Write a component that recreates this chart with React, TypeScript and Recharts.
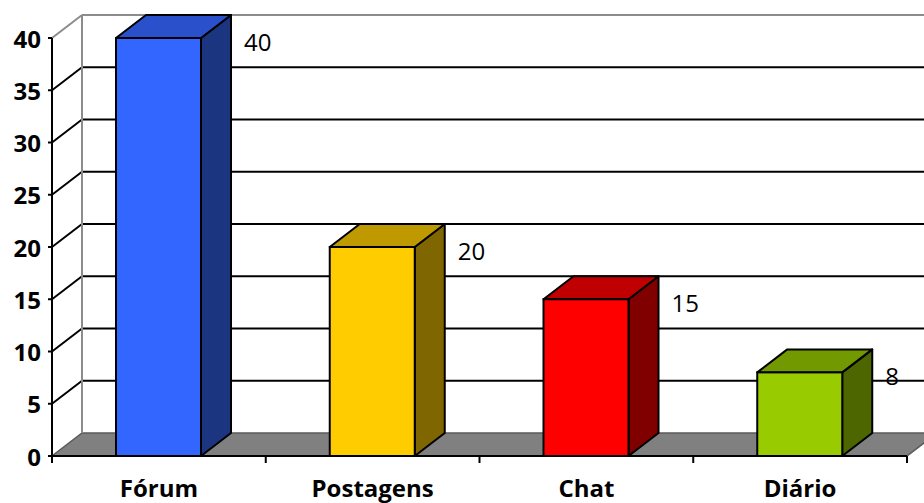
import React from 'react';
import { BarChart, Bar, XAxis, YAxis, CartesianGrid, LabelList } from 'recharts';

// Categories and counts
const categories = ['Fórum', 'Postagens', 'Chat', 'Diário'];
const counts = [40, 20, 15, 8];
const yTicks = [0, 5, 10, 15, 20, 25, 30, 35, 40];

const data = categories.map((name, i) => ({ name, value: counts[i] }));

// Face colours per bar: front, top, side
const palette = [
  { front: '#3366FF', top: '#2A50CC', side: '#1B3580' },
  { front: '#FFCC00', top: '#BF9900', side: '#806600' },
  { front: '#FF0000', top: '#C00000', side: '#800000' },
  { front: '#99CC00', top: '#739900', side: '#4D6600' },
];

const W = 924;
const H = 503;
const MARGIN = { top: 38, right: 17, left: 0, bottom: 0 };
const Y_AXIS_W = 52;
const X_AXIS_H = 47;
const PLOT_LEFT = Y_AXIS_W;
const PLOT_RIGHT = W - MARGIN.right;
const PLOT_BOTTOM = H - X_AXIS_H;
const BAND = (PLOT_RIGHT - PLOT_LEFT) / categories.length;

// 3D depth offset
const DX = 30;
const DY = 23;
const FONT = "'Open Sans', sans-serif";

const Box3D = (props: any) => {
  const { x, y, width, height, index } = props;
  const c = palette[index % palette.length];
  const top = `${x},${y} ${x + DX},${y - DY} ${x + width + DX},${y - DY} ${x + width},${y}`;
  const side = `${x + width},${y} ${x + width + DX},${y - DY} ${x + width + DX},${y + height - DY} ${x + width},${y + height}`;
  return (
    <g>
      <polygon points={side} fill={c.side} stroke="#000" strokeWidth={2} strokeLinejoin="round" />
      <polygon points={top} fill={c.top} stroke="#000" strokeWidth={2} strokeLinejoin="round" />
      <rect x={x} y={y} width={width} height={height} fill={c.front} stroke="#000" strokeWidth={2} />
    </g>
  );
};

const GridLine = (props: any) => {
  const { x1, y1, x2, y, height } = props;
  const isTop = Math.abs(y1 - y) < 0.5;
  const isFloor = Math.abs(y1 - (y + height)) < 0.5;
  if (isFloor) {
    const floor = `${x1},${y1} ${x2},${y1} ${x2 + DX},${y1 - DY} ${x1 + DX},${y1 - DY}`;
    return (
      <g>
        <polygon points={floor} fill="#808080" stroke="#5a5a5a" strokeWidth={1.5} />
      </g>
    );
  }
  const color = isTop ? '#8c8c8c' : '#000';
  return (
    <g>
      <line x1={x1} y1={y1} x2={x1 + DX} y2={y1 - DY} stroke={color} strokeWidth={2} />
      <line x1={x1 + DX} y1={y1 - DY} x2={W + 20} y2={y1 - DY} stroke={color} strokeWidth={2} />
      {isTop && (
        <line x1={x1 + DX} y1={y1 - DY} x2={x1 + DX} y2={y + height - DY} stroke="#8c8c8c" strokeWidth={2} />
      )}
    </g>
  );
};

const YTick = (props: any) => {
  const { y, payload } = props;
  return (
    <g>
      <line x1={PLOT_LEFT - 4} x2={PLOT_LEFT} y1={y} y2={y} stroke="#000" strokeWidth={2} />
      <text
        x={PLOT_LEFT - 11}
        y={y}
        textAnchor="end"
        dominantBaseline="central"
        fontFamily={FONT}
        fontWeight={700}
        fontSize={24}
        fill="#000"
      >
        {payload.value}
      </text>
    </g>
  );
};

const XTick = (props: any) => {
  const { x, payload, index } = props;
  const last = index === categories.length - 1;
  return (
    <g>
      <line x1={x - BAND / 2} x2={x - BAND / 2} y1={PLOT_BOTTOM} y2={PLOT_BOTTOM + 7} stroke="#000" strokeWidth={2} />
      {last && (
        <line x1={x + BAND / 2} x2={x + BAND / 2} y1={PLOT_BOTTOM} y2={PLOT_BOTTOM + 7} stroke="#000" strokeWidth={2} />
      )}
      <text
        x={x}
        y={PLOT_BOTTOM + 41}
        textAnchor="middle"
        fontFamily={FONT}
        fontWeight={700}
        fontSize={24}
        fill="#000"
      >
        {payload.value}
      </text>
    </g>
  );
};

const ValueLabel = (props: any) => {
  const { x, y, width, value } = props;
  return (
    <text
      x={x + width + DX + 13}
      y={y + 3}
      dominantBaseline="central"
      fontFamily={FONT}
      fontSize={24}
      fill="#000"
    >
      {value}
    </text>
  );
};

export default function App() {
  return (
    <div style={{ position: 'absolute', left: 0, top: 0, width: W, height: H, background: '#fff' }}>
      <BarChart width={W} height={H} data={data} margin={MARGIN} barSize={85}>
        <CartesianGrid vertical={false} horizontal={(p: any) => <GridLine {...p} />} />
        <XAxis
          dataKey="name"
          height={X_AXIS_H}
          tickLine={false}
          axisLine={{ stroke: '#000', strokeWidth: 2 }}
          tick={<XTick />}
          interval={0}
        />
        <YAxis
          width={Y_AXIS_W}
          domain={[0, 40]}
          ticks={yTicks}
          tickLine={false}
          axisLine={{ stroke: '#000', strokeWidth: 2 }}
          tick={<YTick />}
          interval={0}
        />
        <Bar dataKey="value" shape={<Box3D />} isAnimationActive={false}>
          <LabelList dataKey="value" content={<ValueLabel />} />
        </Bar>
      </BarChart>
    </div>
  );
}
